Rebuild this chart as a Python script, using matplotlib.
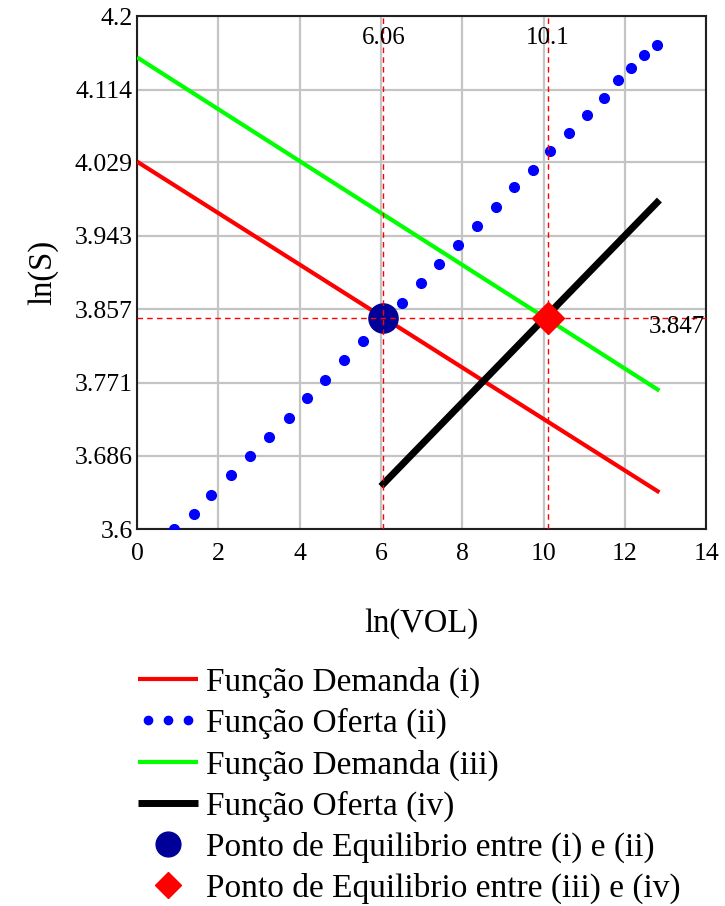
import matplotlib.pyplot as plt
from matplotlib.legend_handler import HandlerLine2D

plt.rcParams['font.family'] = ['Liberation Serif', 'DejaVu Serif']

# demand (i) and (iii), supply (iv): straight lines given by their end points
x_demanda_i = [0.0, 12.85]
y_demanda_i = [4.030, 3.643]
x_demanda_iii = [0.0, 12.85]
y_demanda_iii = [4.152, 3.762]
x_oferta_iv = [6.0, 12.85]
y_oferta_iv = [3.650, 3.985]

# supply (ii): dotted trace
x_oferta_ii = [0.91, 1.40, 1.83, 2.30, 2.77, 3.25, 3.73, 4.19, 4.62, 5.09,
               5.57, 6.05, 6.53, 6.98, 7.43, 7.90, 8.36, 8.84, 9.27, 9.73,
               10.16, 10.63, 11.07, 11.48, 11.84, 12.16, 12.48, 12.78]
y_oferta_ii = [3.600, 3.618, 3.640, 3.663, 3.685, 3.708, 3.730, 3.753, 3.775, 3.798,
               3.820, 3.843, 3.865, 3.888, 3.910, 3.932, 3.955, 3.977, 4.000, 4.020,
               4.042, 4.064, 4.085, 4.105, 4.125, 4.140, 4.155, 4.167]

# equilibrium points
eq_x = [6.06, 10.1]
eq_y = [3.847, 3.847]

x_ticks = [0, 2, 4, 6, 8, 10, 12, 14]
y_ticks = [3.6, 3.686, 3.771, 3.857, 3.943, 4.029, 4.114, 4.2]
y_tick_labels = ['3.6', '3.686', '3.771', '3.857', '3.943', '4.029', '4.114', '4.2']

labels = ['Função Demanda (i)', 'Função Oferta (ii)', 'Função Demanda (iii)',
          'Função Oferta (iv)', 'Ponto de Equilibrio entre (i) e (ii)',
          'Ponto de Equilibrio entre (iii) e (iv)']

fig = plt.figure(figsize=(7.25, 9.06), dpi=100)
ax = fig.add_axes([0.189, 0.416, 0.785, 0.566])

ax.set_xlim(0, 14)
ax.set_ylim(3.6, 4.2)
ax.set_xticks(x_ticks)
ax.set_yticks(y_ticks)
ax.set_yticklabels(y_tick_labels)
ax.tick_params(length=0, labelsize=18.5)
ax.tick_params(axis='x', pad=10)
ax.tick_params(axis='y', pad=3)
ax.grid(True, color='#c4c4c4', linewidth=1.6)
ax.set_axisbelow(True)
for s in ax.spines.values():
    s.set_linewidth(1.5)
    s.set_color('#202020')

l1, = ax.plot(x_demanda_i, y_demanda_i, color='#ff0000', lw=3.0, solid_capstyle='butt', zorder=3)
l2, = ax.plot(x_oferta_ii, y_oferta_ii, ls='none', marker='o', ms=7, color='#0000ff', zorder=3)
l3, = ax.plot(x_demanda_iii, y_demanda_iii, color='#00ff00', lw=3.0, solid_capstyle='butt', zorder=3)
l4, = ax.plot(x_oferta_iv, y_oferta_iv, color='black', lw=5.0, solid_capstyle='butt', zorder=3)
p1, = ax.plot(eq_x[0], eq_y[0], ls='none', marker='o', ms=21, color='#000099', zorder=4)
p2, = ax.plot(eq_x[1], eq_y[1], ls='none', marker='D', ms=16, color='#ff0000', zorder=4)

# dashed guides through the equilibria
for xv in eq_x:
    ax.axvline(xv, color='#ff0000', lw=1.0, dashes=(4, 3), zorder=5)
ax.axhline(eq_y[0], color='#ff0000', lw=1.0, dashes=(4, 3), zorder=5)

ax.text(eq_x[0], 4.188, '6.06', ha='center', va='top', fontsize=18, zorder=6)
ax.text(eq_x[1], 4.188, '10.1', ha='center', va='top', fontsize=18, zorder=6)
ax.text(13.97, eq_y[0] + 0.002, '3.847', ha='right', va='top', fontsize=18, zorder=6)

ax.set_xlabel('ln(VOL)', fontsize=23.5, labelpad=31)
ax.set_ylabel('ln(S)', fontsize=23.5, labelpad=12)

hmap = {l2: HandlerLine2D(numpoints=3), p1: HandlerLine2D(numpoints=1),
        p2: HandlerLine2D(numpoints=1)}
fig.legend([l1, l2, l3, l4, p1, p2], labels, handler_map=hmap,
           loc='upper left', bbox_to_anchor=(0.190, 0.264), frameon=False,
           fontsize=24, handlelength=1.8, handletextpad=0.25, labelspacing=0.3,
           borderpad=0, borderaxespad=0, markerscale=0.85)

fig.savefig('out.png', dpi=100)
